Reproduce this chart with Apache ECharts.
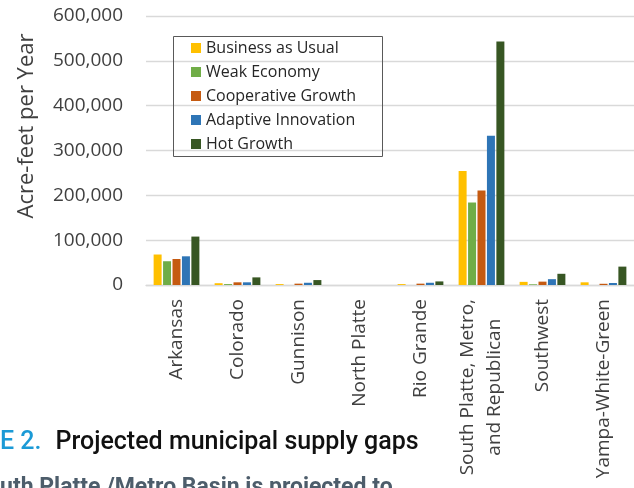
<!DOCTYPE html>
<html>
<head>
<meta charset="utf-8">
<script src="https://cdn.jsdelivr.net/npm/echarts@6/dist/echarts.min.js"></script>
<style>
html,body{margin:0;padding:0;background:#fff;}
#chart{width:634px;height:488px;}
</style>
</head>
<body>
<div id="chart"></div>
<script>
const categories = ['Arkansas','Colorado','Gunnison','North Platte','Rio Grande','South Platte, Metro,\nand Republican','Southwest','Yampa-White-Green'];
const seriesNames = ['Business as Usual','Weak Economy','Cooperative Growth','Adaptive Innovation','Hot Growth'];
const businessAsUsual    = [68000, 4000, 2000, 0, 2000, 254000, 7000, 6000];
const weakEconomy        = [53000, 2000, 0, 0, 0, 184000, 1500, 0];
const cooperativeGrowth  = [58000, 6000, 3000, 0, 3000, 211000, 7500, 2700];
const adaptiveInnovation = [64000, 6000, 5000, 0, 5000, 333000, 13000, 4500];
const hotGrowth          = [108000, 17000, 11000, 0, 8000, 543000, 25000, 41000];
const yTicks = [0, 100000, 200000, 300000, 400000, 500000, 600000];
const colors = ['#FFC000','#70AD47','#C55A11','#2E75B6','#375623'];

const values = [businessAsUsual, weakEconomy, cooperativeGrowth, adaptiveInnovation, hotGrowth];
const font = 'Open Sans';

const chart = echarts.init(document.getElementById('chart'), null, {renderer:'canvas'});
chart.setOption({
  animation: false,
  color: colors,
  textStyle: {fontFamily: font},
  grid: {left: 146, top: 16, width: 492, bottom: 203, containLabel: false},
  legend: {
    orient: 'vertical', left: 191, top: 38, padding: 0,
    itemWidth: 10, itemHeight: 10, itemGap: 4, icon: 'rect',
    textStyle: {fontFamily: font, fontSize: 16, color: '#262626', lineHeight: 20},
    data: seriesNames
  },
  xAxis: {
    type: 'category', data: categories,
    axisLine: {show: true, lineStyle: {color: '#d9d9d9', width: 1.3}},
    axisTick: {show: false},
    axisLabel: {
      rotate: 90, interval: 0, margin: 14, fontFamily: font, fontSize: 19, color: '#404040',
      formatter: function (v) {
        if (v.indexOf('\n') >= 0) {
          return v.split('\n').map(function (s) { return '{c|' + s + '}'; }).join('\n');
        }
        return v;
      },
      rich: {c: {align: 'center', fontFamily: font, fontSize: 19, color: '#404040', lineHeight: 27}}
    }
  },
  yAxis: {
    type: 'value', min: yTicks[0], max: yTicks[yTicks.length - 1], interval: yTicks[1] - yTicks[0],
    axisLine: {show: false}, axisTick: {show: false},
    splitLine: {lineStyle: {color: '#d9d9d9', width: 1.3}},
    axisLabel: {
      margin: 23, fontFamily: font, fontSize: 19, color: '#404040',
      formatter: function (v) { return String(v).replace(/\B(?=(\d{3})+(?!\d))/g, ','); }
    }
  },
  series: seriesNames.map(function (n, i) {
    return {name: n, type: 'bar', data: values[i], barWidth: 8, barGap: '18%',
      itemStyle: {color: colors[i]}};
  }),
  graphic: [
    {type: 'rect', shape: {x: 173.5, y: 36.5, width: 209, height: 120}, style: {fill: 'none', stroke: '#595959', lineWidth: 1}, z: 10},
    {type: 'text', x: 27, y: 126, rotation: Math.PI / 2,
      style: {text: 'Acre-feet per Year', fontFamily: font, fontSize: 22, fill: '#404040', align: 'center', verticalAlign: 'middle'}},
    {type: 'text', x: 0, y: 455,
      style: {text: '{b|E 2.}{k|Projected municipal supply gaps}', verticalAlign: 'bottom',
        rich: {b: {fontFamily: 'Roboto', fontWeight: 500, fontSize: 25, fill: '#1B9AD6', padding: [0, 14, 0, 0]},
               k: {fontFamily: 'Roboto', fontWeight: 500, fontSize: 25, fill: '#111111'}}}},
    {type: 'text', x: 0, y: 500,
      style: {text: 'uth Platte /Metro Basin is projected to', verticalAlign: 'bottom',
        fontFamily: 'Roboto', fontWeight: 'bold', fontSize: 23, fill: '#4D5D6B'}}
  ]
});
</script>
</body>
</html>
